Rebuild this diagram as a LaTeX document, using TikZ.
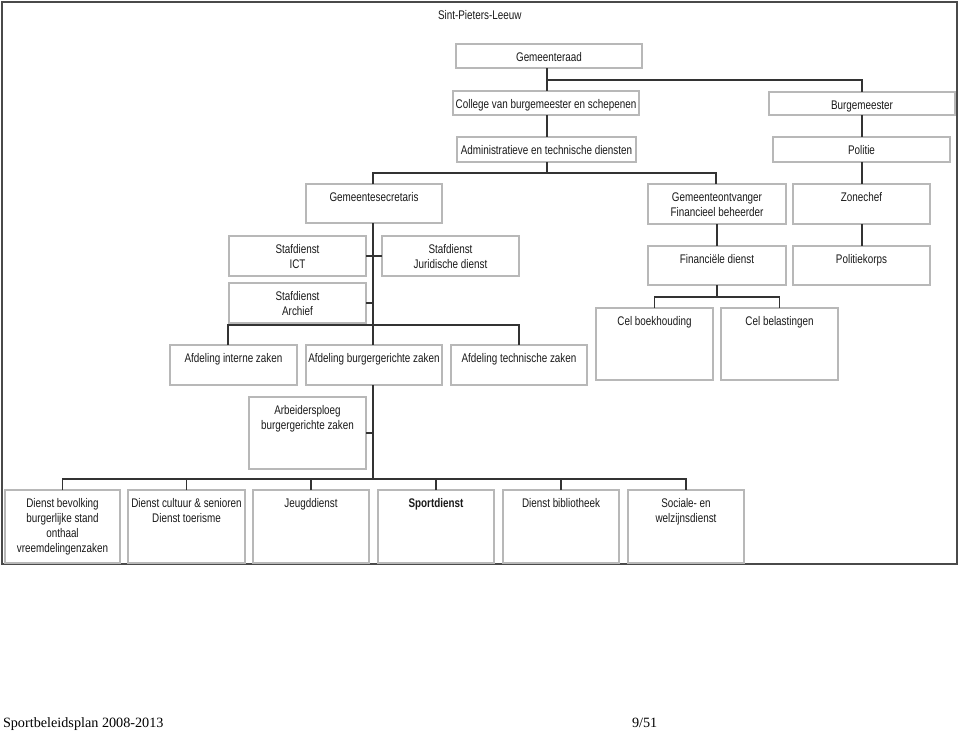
\documentclass[tikz,border=0pt]{standalone}
\usepackage{fontspec}
\setmainfont{Liberation Sans}
\newfontfamily\narrowfont{Liberation Sans}[FakeStretch=0.79]
\newfontfamily\footfont{Liberation Serif}
\definecolor{framecol}{HTML}{4A4A4A}
\definecolor{boxcol}{HTML}{B8B8B8}
\definecolor{linecol}{HTML}{333333}
\definecolor{txtcol}{HTML}{1A1A1A}
\tikzset{
  obox/.style={draw=boxcol, line width=1.2pt, fill=white, inner sep=0pt, outer sep=0pt, rectangle},
  otext/.style={inner sep=0pt, outer sep=0pt, align=center, text=txtcol, font=\narrowfont\fontsize{12.5}{15}\selectfont},
  conn/.style={draw=linecol, line width=1.3pt},
  foot/.style={inner sep=0pt, outer sep=0pt, text=black, font=\footfont\fontsize{14.2}{17}\selectfont}
}
\newcommand\obox[6]{%
  \node[obox, minimum width={#4-#2}, minimum height={#5-#3}, anchor=north west] (#1) at (#2,#3) {};
  \node[otext, anchor=north] (#1-t) at ([yshift=-6.8pt]#1.north) {\strut #6};
}
\begin{document}
\begin{tikzpicture}[x=1pt,y=-1pt]
\useasboundingbox (0,0) rectangle (960,732);
\fill[white] (0,0) rectangle (960,732);
\draw[draw=framecol, line width=2pt] (2,2) rectangle (957,564);
\node[otext, anchor=west] (title) at (438,15) {Sint-Pieters-Leeuw};

% boxes
\obox{raad}{456}{44}{642}{68}{Gemeenteraad}
\obox{college}{453}{91}{639}{115}{College van burgemeester en schepenen}
\obox{burg}{769}{92}{955}{115}{Burgemeester}
\obox{adm}{457}{137}{636}{162}{Administratieve en technische diensten}
\obox{politie}{773}{137}{950}{162}{Politie}
\obox{secr}{306}{184}{442}{223}{Gemeentesecretaris}
\obox{ontv}{648}{184}{786}{224}{Gemeenteontvanger\\Financieel beheerder}
\obox{zone}{793}{184}{930}{224}{Zonechef}
\obox{ict}{229}{236}{366}{276}{Stafdienst\\ICT}
\obox{jur}{382}{236}{519}{276}{Stafdienst\\Juridische dienst}
\obox{fin}{648}{246}{786}{285}{Financiële dienst}
\obox{korps}{793}{246}{930}{285}{Politiekorps}
\obox{archief}{229}{283}{366}{323}{Stafdienst\\Archief}
\obox{boek}{596}{308}{713}{380}{Cel boekhouding}
\obox{belast}{721}{308}{838}{380}{Cel belastingen}
\obox{interne}{170}{345}{297}{385}{Afdeling interne zaken}
\obox{burgerg}{306}{345}{442}{385}{Afdeling burgergerichte zaken}
\obox{techn}{451}{345}{587}{385}{Afdeling technische zaken}
\obox{arbeid}{249}{397}{366}{469}{Arbeidersploeg\\burgergerichte zaken}
\obox{bA}{5}{490}{120}{563}{Dienst bevolking\\burgerlijke stand\\onthaal\\vreemdelingenzaken}
\obox{bB}{128}{490}{245}{563}{Dienst cultuur \& senioren\\Dienst toerisme}
\obox{bC}{253}{490}{369}{563}{Jeugddienst}
\obox{bD}{378}{490}{494}{563}{\textbf{Sportdienst}}
\obox{bE}{503}{490}{619}{563}{Dienst bibliotheek}
\obox{bF}{628}{490}{744}{563}{Sociale- en\\welzijnsdienst}

% junctions
\coordinate (j1) at (547,80);
\coordinate (j2) at (547,173);
\coordinate (j3) at (373,173);
\coordinate (j4) at (716,173);
\coordinate (j5) at (717,297);
\coordinate (j6) at (373,325);
\coordinate (j7) at (373,479);

% connectors
\draw[conn] (raad.south -| j1) -- (college.north -| j1);
\draw[conn] (j1) -| (burg.north);
\draw[conn] (college.south -| j1) -- (adm.north -| j1);
\draw[conn] (burg.south) -- (politie.north -| burg.south);
\draw[conn] (adm.south -| j2) -- (j2);
\draw[conn] (secr.north -| j3) -- (j3) -- (j4) -- (ontv.north -| j4);
\draw[conn] (politie.south -| burg.south) -- (zone.north -| burg.south);
\draw[conn] (zone.south -| burg.south) -- (korps.north -| burg.south);
\draw[conn] (ontv.south) -- (fin.north);
\draw[conn] (fin.south) -- (j5);
\draw[conn] (boek.north) |- (j5) -| (belast.north);
\draw[conn] (secr.south -| j3) -- (burgerg.north -| j3);
\draw[conn] (ict.east) -- (jur.west);
\draw[conn] (archief.east) -- (archief.east -| j3);
\draw[conn] ([xshift=-5.5pt]interne.north) |- (j6) -| (techn.north);
\draw[conn] (burgerg.south -| j7) -- (j7);
\draw[conn] (arbeid.east) -- (arbeid.east -| j7);
\draw[conn] (bA.north) |- (j7) -| (bF.north);
\draw[conn] (bB.north) -- (bB.north |- j7);
\draw[conn] (bC.north) -- (bC.north |- j7);
\draw[conn] (bD.north) -- (bD.north |- j7);
\draw[conn] (bE.north) -- (bE.north |- j7);

% footer
\node[foot, anchor=base west] (f1) at (3,727) {Sportbeleidsplan 2008-2013};
\node[foot, anchor=base west] (f2) at (632,727) {9/51};
\end{tikzpicture}
\end{document}
